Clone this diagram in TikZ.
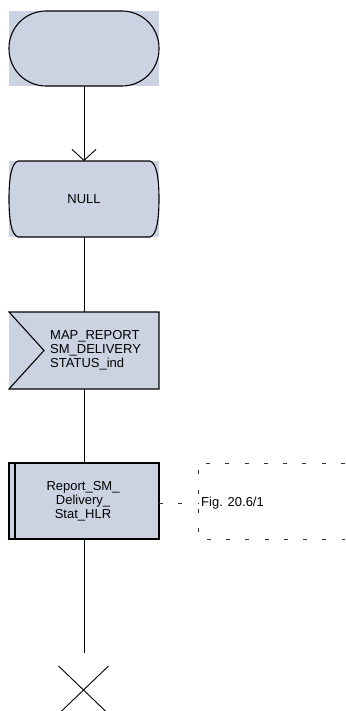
\documentclass[tikz,border=0pt]{standalone}
\usepackage{fontspec}
\setmainfont{Liberation Sans}
\usetikzlibrary{arrows.meta,calc}
\definecolor{sdlfill}{RGB}{203,211,226}
\begin{document}
\begin{tikzpicture}[x=1pt,y=1pt,
  shapebox/.style={fill=sdlfill, draw=none, minimum width=150pt, inner sep=0pt, outer sep=0pt},
  outline/.style={draw=black, line width=1.1pt},
  conn/.style={draw=black, line width=0.9pt},
  cdash/.style={draw=black!80, line width=0.8pt, dash pattern=on 4pt off 15.3pt},
  txt/.style={font=\fontsize{13}{14}\selectfont}
]
\useasboundingbox (0,0) rectangle (345,-711);
% start
\node[shapebox, minimum height=75pt] (start) at (84,-48.5) {};
\draw[outline, rounded corners=37pt] (start.south west) rectangle (start.north east);
% NULL state
\node[shapebox, minimum height=76pt, txt] (null) at (84,-199) {NULL};
\draw[outline] (18,-161) -- (150,-161)
  .. controls (157,-163) and (159,-180) .. (159,-199)
  .. controls (159,-218) and (157,-235) .. (150,-237)
  -- (18,-237)
  .. controls (11,-235) and (9,-218) .. (9,-199)
  .. controls (9,-180) and (11,-163) .. (18,-161) -- cycle;
% input signal
\node[shapebox, minimum height=77pt] (inp) at (84,-350.5) {};
\draw[outline] (inp.north east) -- (inp.north west) -- (44,-350.5) -- (inp.south west) -- (inp.south east) -- cycle;
\node[txt, anchor=west, align=left, inner sep=0pt] (inptxt) at (50,-350) {MAP\_REPORT\\SM\_DELIVERY\\STATUS\_ind};
% procedure
\node[shapebox, minimum height=76pt] (proc) at (84,-501) {};
\draw[outline] (proc.south west) rectangle (proc.north east);
\draw[outline] (15,-463) -- (15,-539);
\node[txt, align=center, inner sep=0pt] (proctxt) at (83,-501) {Report\_SM\_\\Delivery\_\\Stat\_HLR};
% comment
\coordinate (cmtl) at (198,-503);
\draw[cdash] (proc.east |- cmtl) -- (cmtl);
\draw[cdash] (345,-463) -- (198,-463) -- (198,-539) -- (345,-539);
\node[txt, anchor=west, inner sep=0pt] (fig) at (201,-503) {Fig. 20.6/1};
% connectors
\draw[conn, -{Straight Barb[length=11pt,width=24pt,line width=0.9pt]}] (start.south) -- (null.north);
\draw[conn] (null.south) -- (inp.north);
\draw[conn] (inp.south) -- (proc.north);
\coordinate (stopend) at (84,-653);
\draw[conn] (proc.south) -- (stopend);
% stop cross
\coordinate (stopc) at (83.5,-690);
\draw[conn] ($(stopc)+(-25,24)$) -- ($(stopc)+(25,-24)$);
\draw[conn] ($(stopc)+(25,24)$) -- ($(stopc)+(-25,-24)$);
\end{tikzpicture}
\end{document}
